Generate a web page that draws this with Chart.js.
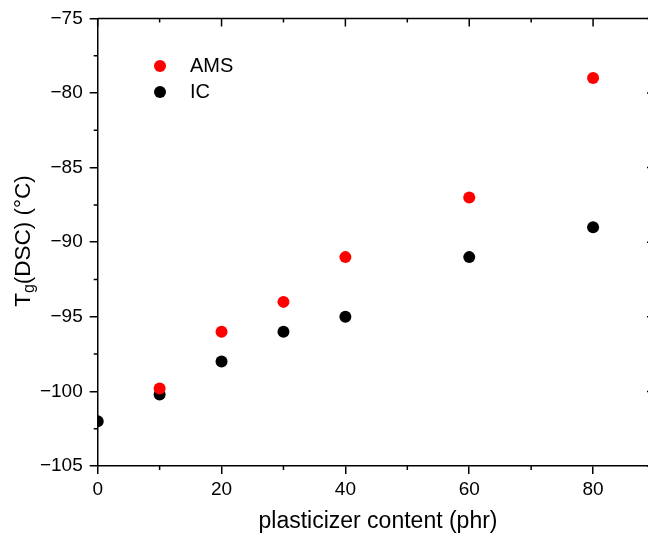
<!DOCTYPE html>
<html>
<head>
<meta charset="utf-8">
<script src="https://cdn.jsdelivr.net/npm/chart.js@4/dist/chart.umd.min.js"></script>
<style>
html,body{margin:0;padding:0;background:#fff;overflow:hidden;}
#wrap{width:661px;height:537px;}
</style>
</head>
<body>
<div id="wrap"><canvas id="c" width="661" height="537"></canvas></div>
<script>
const amsX = [10, 20, 30, 40, 60, 80];
const amsY = [-99.8, -96, -94, -91, -87, -79];
const icX = [0, 10, 20, 30, 40, 60, 80];
const icY = [-102, -100.2, -98, -96, -95, -91, -89];
const xTicks = [0, 20, 40, 60, 80];
const yTicks = [-105, -100, -95, -90, -85, -80, -75];
const xMinor = [10, 30, 50, 70, 90];
const yMinor = [-102.5, -97.5, -92.5, -87.5, -82.5, -77.5];
const seriesNames = ['AMS', 'IC'];
const seriesColors = ['#ff0000', '#000000'];

const FONT = '"Liberation Sans", Arial, sans-serif';

function pts(xs, ys) { return xs.map((x, i) => ({x: x, y: ys[i]})); }

const extras = {
  id: 'extras',
  afterDraw(chart) {
    const ctx = chart.ctx;
    const xs = chart.scales.x, ys = chart.scales.y;
    const a = chart.chartArea;
    ctx.save();
    ctx.strokeStyle = '#000';
    ctx.lineWidth = 1.5;
    // top & right borders
    ctx.beginPath();
    ctx.moveTo(a.left, a.top); ctx.lineTo(a.right, a.top);
    ctx.moveTo(a.right, a.top); ctx.lineTo(a.right, a.bottom);
    ctx.stroke();
    ctx.beginPath();
    // minor ticks outward on bottom/left
    xMinor.forEach(v => { const p = xs.getPixelForValue(v); ctx.moveTo(p, a.bottom); ctx.lineTo(p, a.bottom + 4); });
    yMinor.forEach(v => { const p = ys.getPixelForValue(v); ctx.moveTo(a.left, p); ctx.lineTo(a.left - 4, p); });
    // top inward ticks
    xTicks.forEach(v => { const p = xs.getPixelForValue(v); ctx.moveTo(p, a.top); ctx.lineTo(p, a.top + 8); });
    xMinor.forEach(v => { const p = xs.getPixelForValue(v); ctx.moveTo(p, a.top); ctx.lineTo(p, a.top + 4); });
    // right inward ticks
    yTicks.forEach(v => { const p = ys.getPixelForValue(v); ctx.moveTo(a.right, p); ctx.lineTo(a.right - 8, p); });
    yMinor.forEach(v => { const p = ys.getPixelForValue(v); ctx.moveTo(a.right, p); ctx.lineTo(a.right - 4, p); });
    ctx.stroke();

    // x title
    ctx.fillStyle = '#000';
    ctx.font = '23px ' + FONT;
    ctx.textAlign = 'center';
    ctx.textBaseline = 'middle';
    ctx.fillText('plasticizer content (phr)', 378, 522);

    // y title with subscript
    ctx.save();
    ctx.translate(24, 241);
    ctx.rotate(-Math.PI / 2);
    ctx.textBaseline = 'middle';
    ctx.textAlign = 'left';
    const big = '22.5px ' + FONT, small = '16px ' + FONT;
    ctx.font = big; const wT = ctx.measureText('T').width;
    ctx.font = small; const wg = ctx.measureText('g').width;
    ctx.font = big; const wRest = ctx.measureText('(DSC) (°C)').width;
    const total = wT + wg + wRest;
    let x0 = -total / 2;
    ctx.font = big; ctx.fillText('T', x0, 0);
    ctx.font = small; ctx.fillText('g', x0 + wT, 6);
    ctx.font = big; ctx.fillText('(DSC) (°C)', x0 + wT + wg, 0);
    ctx.restore();

    // legend
    ctx.font = '20px ' + FONT;
    ctx.textAlign = 'left';
    ctx.textBaseline = 'middle';
    chart.data.datasets.forEach((d, i) => {
      const yy = 66 + i * 26;
      ctx.fillStyle = d.backgroundColor;
      ctx.beginPath(); ctx.arc(160, yy, 6, 0, Math.PI * 2); ctx.fill();
      ctx.fillStyle = '#000';
      ctx.fillText(d.label, 190, yy);
    });
    ctx.restore();
  }
};

const minusFmt = v => String(v).replace('-', '\u2212');

new Chart(document.getElementById('c'), {
  type: 'scatter',
  data: {
    datasets: [
      {label: seriesNames[0], data: pts(amsX, amsY), backgroundColor: seriesColors[0], borderWidth: 0, pointRadius: 6, pointHoverRadius: 6},
      {label: seriesNames[1], data: pts(icX, icY), backgroundColor: seriesColors[1], borderWidth: 0, pointRadius: 6, pointHoverRadius: 6}
    ]
  },
  options: {
    responsive: false,
    animation: false,
    events: [],
    layout: {padding: {top: 18, left: 0, right: 0, bottom: 0}},
    plugins: {legend: {display: false}, tooltip: {enabled: false}},
    scales: {
      x: {
        type: 'linear', min: 0, max: 90,
        afterBuildTicks: s => { s.ticks = xTicks.map(v => ({value: v})); },
        afterFit: s => { s.height = 71; },
        ticks: {font: {size: 19, family: FONT}, color: '#000', padding: 4, callback: minusFmt, maxRotation: 0},
        grid: {display: true, drawOnChartArea: false, drawTicks: true, tickLength: 8, color: '#000', lineWidth: 1.5},
        border: {display: true, color: '#000', width: 1.5}
      },
      y: {
        type: 'linear', min: -105, max: -75,
        afterBuildTicks: s => { s.ticks = yTicks.map(v => ({value: v})); },
        afterFit: s => { s.width = 97.7; },
        ticks: {font: {size: 19, family: FONT}, color: '#000', padding: 7, callback: minusFmt},
        grid: {display: true, drawOnChartArea: false, drawTicks: true, tickLength: 8, color: '#000', lineWidth: 1.5},
        border: {display: true, color: '#000', width: 1.5}
      }
    }
  },
  plugins: [extras]
});
</script>
</body>
</html>
